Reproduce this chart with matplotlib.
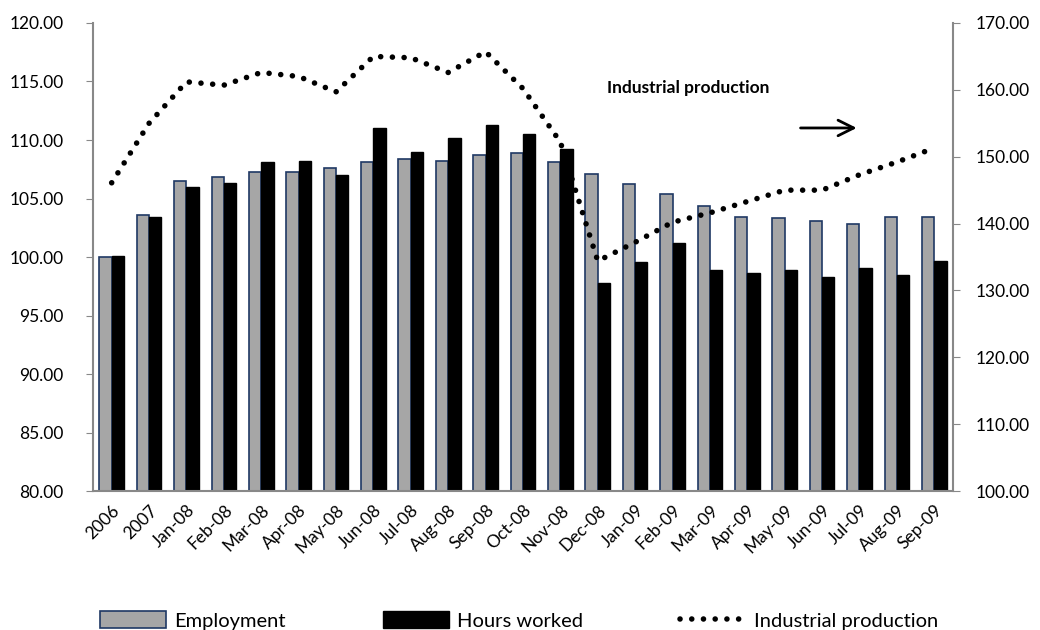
import matplotlib.pyplot as plt
import numpy as np

categories = ["2006", "2007", "Jan-08", "Feb-08", "Mar-08", "Apr-08", "May-08", "Jun-08",
              "Jul-08", "Aug-08", "Sep-08", "Oct-08", "Nov-08", "Dec-08", "Jan-09", "Feb-09",
              "Mar-09", "Apr-09", "May-09", "Jun-09", "Jul-09", "Aug-09", "Sep-09"]
employment = [100.0, 103.6, 106.5, 106.8, 107.3, 107.3, 107.6, 108.1, 108.4, 108.2, 108.7, 108.9,
              108.1, 107.1, 106.2, 105.4, 104.4, 103.4, 103.3, 103.1, 102.8, 103.4, 103.4]
hours_worked = [100.1, 103.4, 106.0, 106.3, 108.1, 108.2, 107.0, 111.0, 109.0, 110.2, 111.3, 110.5,
                109.2, 97.8, 99.6, 101.2, 98.9, 98.6, 98.9, 98.3, 99.1, 98.5, 99.7]
industrial_production = [146.1, 155.0, 161.2, 160.7, 162.6, 162.0, 159.7, 165.0, 164.8, 162.6,
                         165.7, 160.2, 152.2, 134.4, 137.2, 140.2, 141.6, 143.3, 145.0, 145.0,
                         147.3, 149.2, 151.3]

left_ticks = np.arange(80, 121, 5)
right_ticks = np.arange(100, 171, 10)

plt.rcParams["font.family"] = ["Lato", "DejaVu Sans"]

fig = plt.figure(figsize=(10.4, 6.3), dpi=100)
ax = fig.add_axes([0.0894, 0.2206, 0.8269, 0.7429])
ax2 = ax.twinx()

x = np.arange(len(categories))
w = 0.33
ax.bar(x - w / 2, employment, width=w, color="#A6A6A6", edgecolor="#1F3864", linewidth=1.2,
       label="Employment", zorder=2)
ax.bar(x + w / 2, hours_worked, width=w, color="black", edgecolor="black", linewidth=1,
       label="Hours worked", zorder=2)
ax2.plot(x, industrial_production, color="black", linewidth=4, linestyle=(0, (0.01, 2.1)),
         dash_capstyle="round", label="Industrial production", zorder=3)

ax.set_xlim(-0.5, len(categories) - 0.5)
ax.set_ylim(80, 120)
ax2.set_ylim(100, 170)
ax.set_yticks(left_ticks)
ax.set_yticklabels([f"{v:.2f}" for v in left_ticks], fontsize=12.5)
ax2.set_yticks(right_ticks)
ax2.set_yticklabels([f"{v:.2f}" for v in right_ticks], fontsize=12.5)
ax.set_xticks(x)
ax.set_xticklabels(categories, rotation=45, ha="right", rotation_mode="anchor", fontsize=12.5)
ax.tick_params(axis="x", length=0, pad=8)
ax.tick_params(axis="y", direction="out", length=5, color="#888888", pad=16)
ax2.tick_params(axis="y", direction="out", length=5, color="#888888", pad=11)

for a in (ax, ax2):
    a.spines["top"].set_visible(False)
    for s in ("left", "right", "bottom"):
        a.spines[s].set_color("#888888")
        a.spines[s].set_linewidth(1.5)
ax.spines["right"].set_visible(False)
ax2.spines["left"].set_visible(False)
ax2.spines["bottom"].set_visible(False)
ax.set_zorder(ax2.get_zorder() - 1)
ax.patch.set_visible(False)

ax2.text(13.25, 160.3, "Industrial production", fontsize=12.5, fontweight="bold", ha="left",
         va="center")
ax2.annotate("", xy=(20.0, 154.3), xytext=(18.35, 154.3),
             arrowprops=dict(arrowstyle="->", color="black", lw=2, mutation_scale=28))

handles = ax.get_legend_handles_labels()[0] + ax2.get_legend_handles_labels()[0]
labels = ["Employment", "Hours worked", "Industrial production"]
fig.legend(handles, labels, loc="center left", bbox_to_anchor=(0.096, 0.015), ncol=3,
           frameon=False, fontsize=14.5, handlelength=3.3, handleheight=0.9, columnspacing=4.8,
           handletextpad=0.4, borderpad=0, borderaxespad=0)

fig.savefig("out.png", dpi=100)
